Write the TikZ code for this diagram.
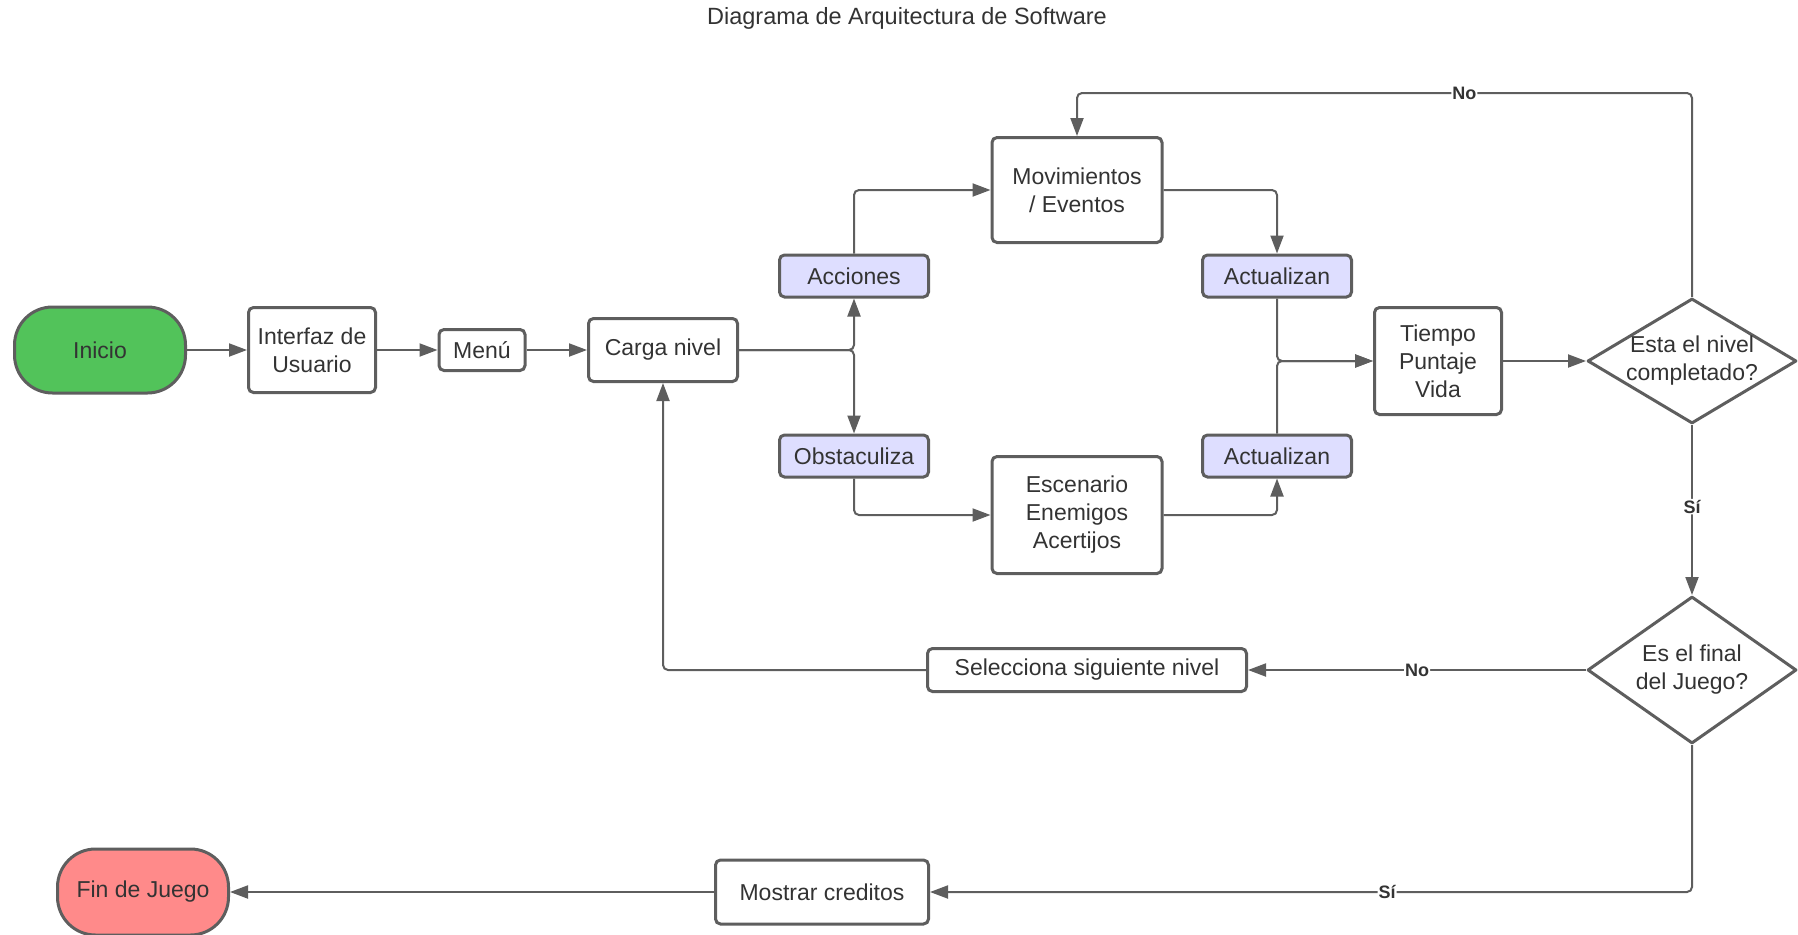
\documentclass[tikz,border=0pt]{standalone}
\usepackage{fontspec}
\setmainfont{Liberation Sans}
\usetikzlibrary{arrows.meta,shapes.geometric}
\definecolor{edge}{HTML}{5E5E5E}
\definecolor{ink}{HTML}{333333}
\definecolor{startgreen}{HTML}{52C35A}
\definecolor{endred}{HTML}{FF8A8A}
\definecolor{lavender}{HTML}{DEDEFF}
\begin{document}
\begin{tikzpicture}[x=1pt,y=-1pt,
  txt/.style={text=ink, font=\fontsize{23}{28}\selectfont},
  box/.style={draw=edge, line width=3pt, rounded corners=5pt, fill=white,
    inner sep=0pt, align=center, txt},
  verb/.style={box, fill=lavender, minimum width=149pt, minimum height=42pt},
  terminal/.style={box, rounded corners=38pt, minimum width=171pt, minimum height=86pt},
  decision/.style={draw=edge, line width=3pt, line join=round, diamond, inner sep=0pt,
    fill=white, minimum width=209pt, minimum height=125pt},
  conn/.style={draw=edge, line width=2pt, rounded corners=5pt,
    -{Triangle[length=18pt,width=13pt]}},
  lbl/.style={fill=white, inner sep=1pt, text=ink,
    font=\fontsize{18}{20}\selectfont\bfseries},
]
\useasboundingbox (0,0) rectangle (1798,934);

% heading
\node[txt, font=\fontsize{23.5}{28}\selectfont] (title) at (907,18)
  {Diagrama de Arquitectura de Software};

% main chain
\node[terminal, fill=startgreen] (inicio) at (100,350) {Inicio};
\node[box, minimum width=127pt, minimum height=85pt] (ui) at (312,350) {Interfaz de\\Usuario};
\node[box, minimum width=86pt, minimum height=41pt] (menu) at (482,350) {Menú};
\node[box, minimum width=149pt, minimum height=63pt] (carga) at (663,350) {Carga nivel};

% game loop
\node[verb] (acc) at (854,276) {Acciones};
\node[verb] (obs) at (854,456) {Obstaculiza};
\node[box, minimum width=170pt, minimum height=105pt] (mov) at (1077,190) {Movimientos\\/ Eventos};
\node[box, minimum width=170pt, minimum height=117pt] (esc) at (1077,515) {Escenario\\Enemigos\\Acertijos};
\node[verb] (act1) at (1277,276) {Actualizan};
\node[verb] (act2) at (1277,456) {Actualizan};
\node[box, minimum width=127pt, minimum height=107pt] (tpv) at (1438,361) {Tiempo\\Puntaje\\Vida};

% decisions
\node[decision, label={[align=center, txt]center:{Esta el nivel\\completado?}}] (d1) at (1692,361) {};
\node[decision, minimum height=147pt, label={[align=center, txt]center:{Es el final\\del Juego?}}] (d2) at (1692,670) {};

% outcomes
\node[box, minimum width=319pt, minimum height=43pt] (sel) at (1087,670) {Selecciona siguiente nivel};
\node[box, minimum width=213pt, minimum height=64pt] (cred) at (822,892) {Mostrar creditos};
\node[terminal, fill=endred] (fin) at (143,892) {Fin de Juego};

\coordinate (nocorner) at (1077,93);

% connectors
\draw[conn] (inicio.east) -- (ui.west);
\draw[conn] (ui.east) -- (menu.west);
\draw[conn] (menu.east) -- (carga.west);
\draw[conn] (carga.east) -| (acc.south);
\draw[conn] (carga.east) -| (obs.north);
\draw[conn] (acc.north) |- (mov.west);
\draw[conn] (obs.south) |- (esc.west);
\draw[conn] (mov.east) -| (act1.north);
\draw[conn] (esc.east) -| (act2.south);
\draw[conn] (act1.south) |- (tpv.west);
\draw[conn] (act2.north) |- (tpv.west);
\draw[conn] (tpv.east) -- (d1.west);
\draw[conn] (d1.north) |- node[lbl, pos=0.685] {No} (nocorner) -- (mov.north);
\draw[conn] (d1.south) -- node[lbl, pos=0.48] {Sí} (d2.north);
\draw[conn] (d2.west) -- node[lbl] {No} (sel.east);
\draw[conn] (sel.west) -| (carga.south);
\draw[conn] (d2.south) |- node[lbl, pos=0.7] {Sí} (cred.east);
\draw[conn] (cred.west) -- (fin.east);
\end{tikzpicture}
\end{document}
